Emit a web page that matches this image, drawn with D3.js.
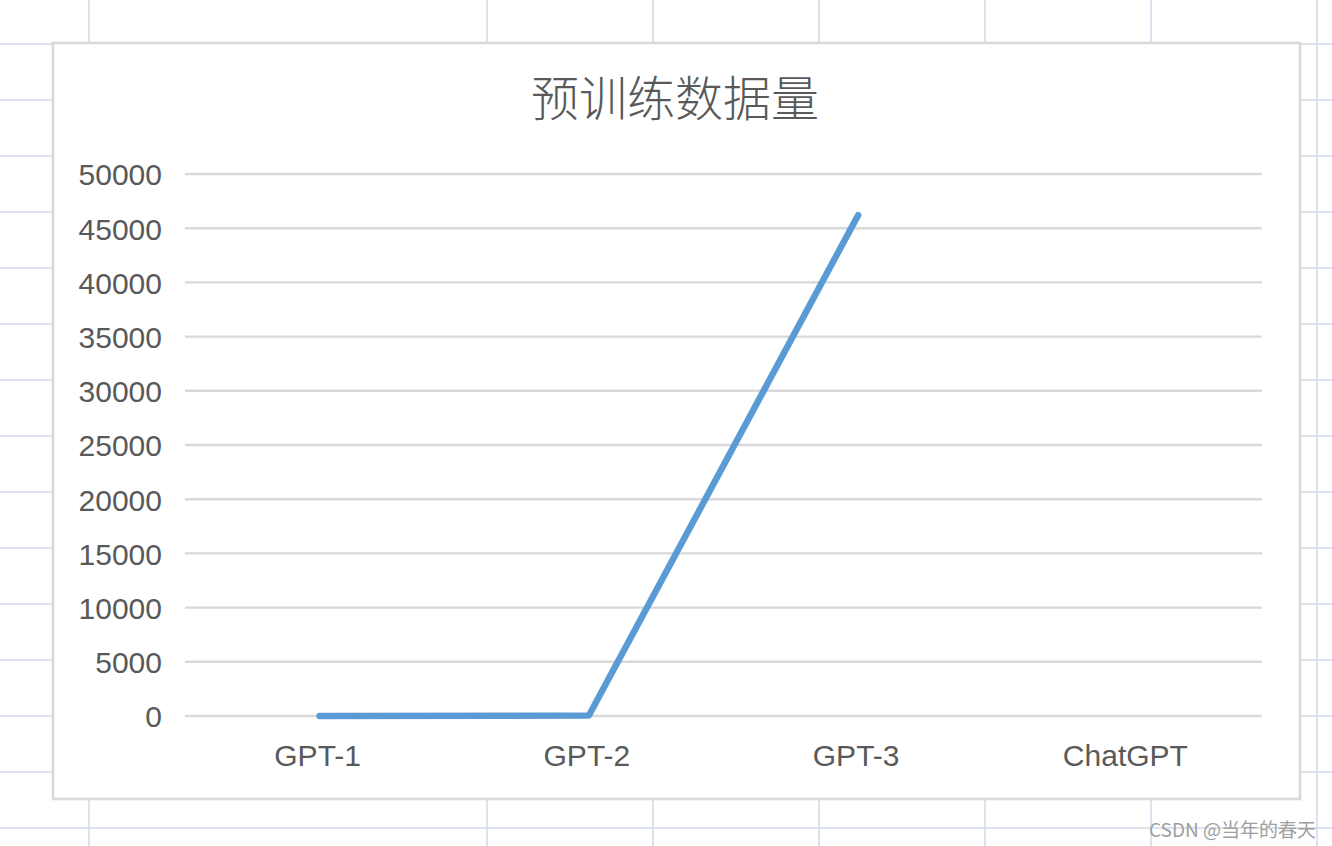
<!DOCTYPE html>
<html>
<head>
<meta charset="utf-8">
<script src="https://cdn.jsdelivr.net/npm/d3@7"></script>
<style>
  html, body { margin: 0; padding: 0; background: #ffffff; overflow: hidden; }
  svg { display: block; }
</style>
</head>
<body>
<svg id="chart" width="1332" height="846"></svg>
<script>
// ---- data ----
const title = "预训练数据量";
const categories = ["GPT-1", "GPT-2", "GPT-3", "ChatGPT"];
const values = [5, 40, 46200, null];
const yTicks = [0, 5000, 10000, 15000, 20000, 25000, 30000, 35000, 40000, 45000, 50000];
const watermark = "CSDN @当年的春天";

// spreadsheet background grid
const sheetCols = [89, 487, 653, 819, 985, 1151, 1317];
const sheetRowStart = 44, sheetRowStep = 56, sheetRowCount = 15;

const W = 1332, H = 846;
const svg = d3.select("#chart");

// background spreadsheet grid
const bg = svg.append("g");
bg.selectAll("line.v").data(sheetCols).enter().append("line")
  .attr("x1", d => d).attr("x2", d => d).attr("y1", 0).attr("y2", H)
  .attr("stroke", "#d0d9e8").attr("stroke-width", 1.5);
bg.selectAll("line.h").data(d3.range(sheetRowCount)).enter().append("line")
  .attr("x1", 0).attr("x2", W)
  .attr("y1", i => sheetRowStart + i * sheetRowStep)
  .attr("y2", i => sheetRowStart + i * sheetRowStep)
  .attr("stroke", "#d0d9e8").attr("stroke-width", 1.5);

// chart box
const box = {x: 53, y: 43, w: 1247, h: 756};
svg.append("rect")
  .attr("x", box.x).attr("y", box.y).attr("width", box.w).attr("height", box.h)
  .attr("fill", "#ffffff").attr("stroke", "#d9d9d9").attr("stroke-width", 2.6);

// title
svg.append("text")
  .attr("x", 675).attr("y", 95)
  .attr("text-anchor", "middle").attr("dominant-baseline", "central")
  .attr("font-family", "'Noto Sans CJK SC', sans-serif")
  .attr("font-size", 48).attr("font-weight", 300)
  .attr("fill", "#595959")
  .text(title);

// scales
const plot = {left: 185, right: 1262, top: 174, bottom: 716};
const x = d3.scaleBand().domain(categories).range([plot.left, plot.right]).padding(0);
const y = d3.scaleLinear().domain([0, 50000]).range([plot.bottom, plot.top]);

// gridlines
svg.append("g").selectAll("line").data(yTicks).enter().append("line")
  .attr("x1", plot.left).attr("x2", plot.right)
  .attr("y1", d => y(d)).attr("y2", d => y(d))
  .attr("stroke", "#d9d9d9").attr("stroke-width", 2.4);

// y axis
const yAxis = d3.axisLeft(y).tickValues(yTicks).tickSize(0).tickPadding(0).tickFormat(d3.format("d"));
const gy = svg.append("g").attr("transform", `translate(162,0)`).call(yAxis);
gy.select(".domain").remove();
gy.selectAll("text")
  .attr("font-family", "'Liberation Sans', Arial, sans-serif")
  .attr("font-size", 30).attr("fill", "#595959").attr("dy", "0.36em");

// x axis
const xAxis = d3.axisBottom(x).tickSize(0).tickPadding(0);
const gx = svg.append("g").attr("transform", `translate(0,${plot.bottom})`).call(xAxis);
gx.select(".domain").remove();
gx.selectAll("text")
  .attr("font-family", "'Liberation Sans', Arial, sans-serif")
  .attr("font-size", 30).attr("fill", "#595959")
  .attr("dy", 0).attr("y", 50)
  .attr("dx", -2);

// line
const pts = categories.map((c, i) => ({c, v: values[i]}));
const line = d3.line()
  .defined(d => d.v !== null)
  .x(d => x(d.c) + x.bandwidth() / 2)
  .y(d => y(d.v));
svg.append("path").datum(pts)
  .attr("d", line)
  .attr("fill", "none").attr("stroke", "#5b9bd5")
  .attr("stroke-width", 6.5)
  .attr("stroke-linecap", "round").attr("stroke-linejoin", "round");

// watermark
svg.append("text")
  .attr("x", 1316).attr("y", 828)
  .attr("text-anchor", "end").attr("dominant-baseline", "central")
  .attr("font-family", "'Noto Sans CJK SC', sans-serif")
  .attr("font-size", 19)
  .attr("fill", "#a0a0a0")
  .text(watermark);
</script>
</body>
</html>
